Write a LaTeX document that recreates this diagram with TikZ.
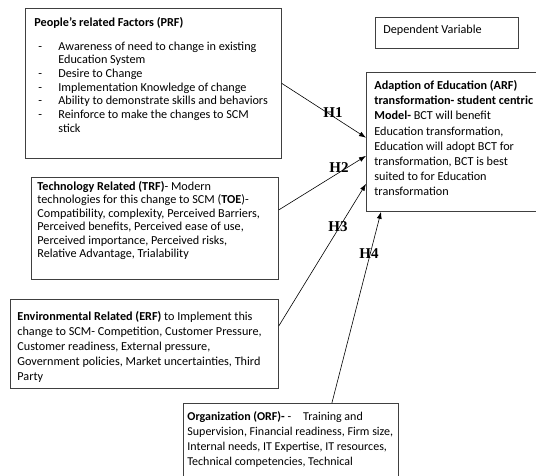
\documentclass[tikz,border=0pt]{standalone}
\usepackage{fontspec}
\setmainfont{Carlito}
\newfontfamily\hypfont{Liberation Serif}
\usetikzlibrary{calc}
\usetikzlibrary{arrows.meta}

% dash of a bullet line and the indent of its second line
\newcommand{\bl}{\makebox[24pt][l]{\hspace*{4pt}-}}
\newcommand{\ind}{\hspace*{24pt}}
% box text: height, width, top gap, text
\newcommand{\boxtext}[4]{\parbox[c][#1][t]{#2}{\raggedright\vspace*{#3}#4}}

\begin{document}
\begin{tikzpicture}[x=1pt,y=-1pt,
		factor/.style={draw=black!75, line width=0.8pt, anchor=north west, align=left, inner ysep=0pt},
		hyp/.style={font=\hypfont\bfseries\fontsize{15}{15}\selectfont, inner sep=0pt},
		link/.style={-{Latex[length=7pt,width=5pt]}, line width=0.6pt}]
	\useasboundingbox (0,0) rectangle (536,475);
	\clip (0,0) rectangle (536,475);

	\node[factor, inner xsep=9pt] (prf) at (25,8)
		{\boxtext{150pt}{238pt}{9pt}{\fontsize{12.2}{13.7}\selectfont
			\textbf{People’s related Factors (PRF)}\par\vspace{10pt}
			\bl Awareness of need to change in existing\\
			\ind Education System\\
			\bl Desire to Change\\
			\bl Implementation Knowledge of change\\
			\bl Ability to demonstrate skills and behaviors\\
			\bl Reinforce to make the changes to SCM\\
			\ind stick}};

	\node[factor, inner xsep=6pt] (trf) at (31,177)
		{\boxtext{102pt}{235pt}{4pt}{\fontsize{12.2}{13.4}\selectfont
			\textbf{Technology Related (TRF)}- Modern\\
			technologies for this change to SCM (\textbf{TOE})-\\
			Compatibility, complexity, Perceived Barriers,\\
			Perceived benefits, Perceived ease of use,\\
			Perceived importance, Perceived risks,\\
			Relative Advantage, Trialability}};

	\node[factor, inner xsep=7pt] (erf) at (10,299)
		{\boxtext{89pt}{254pt}{12pt}{\fontsize{12.2}{15}\selectfont
			\textbf{Environmental Related (ERF)} to Implement this\\
			change to SCM- Competition, Customer Pressure,\\
			Customer readiness, External pressure,\\
			Government policies, Market uncertainties, Third\\
			Party}};

	\node[factor, inner xsep=4pt] (orf) at (183,403)
		{\boxtext{100pt}{207pt}{8pt}{\fontsize{12}{15}\selectfont
			\textbf{Organization (ORF)-} -\hspace{12pt}Training and\\
			Supervision, Financial readiness, Firm size,\\
			Internal needs, IT Expertise, IT resources,\\
			Technical competencies, Technical}};

	\node[factor, inner xsep=8pt] (dv) at (375,17)
		{\boxtext{31pt}{127pt}{8pt}{\fontsize{12.2}{13}\selectfont Dependent Variable}};

	\node[factor, inner xsep=8pt] (arf) at (366,72)
		{\boxtext{139pt}{164pt}{8pt}{\fontsize{12.2}{15.2}\selectfont
			\textbf{Adaption of Education (ARF)}\\
			\textbf{transformation- student centric}\\
			\textbf{Model-} BCT will benefit\\
			Education transformation,\\
			Education will adopt BCT for\\
			transformation, BCT is best\\
			suited to for Education\\
			transformation}};

	\draw[link] (prf.east) -- ($(arf.north west)!0.47!(arf.south west)$);
	\draw[link] ($(trf.north east)!0.32!(trf.south east)$) -- ($(arf.north west)!0.6!(arf.south west)$);
	\draw[link] ($(erf.north east)!0.3!(erf.south east)$) -- ($(arf.north west)!0.8!(arf.south west)$);
	\draw[link] ($(orf.north west)!0.69!(orf.north east)$) -- ($(arf.south west)!0.083!(arf.south east)$);

	\node[hyp] (h1) at (333,113) {H1};
	\node[hyp] (h2) at (339,168) {H2};
	\node[hyp] (h3) at (338,227) {H3};
	\node[hyp] (h4) at (369,254) {H4};
\end{tikzpicture}
\end{document}
